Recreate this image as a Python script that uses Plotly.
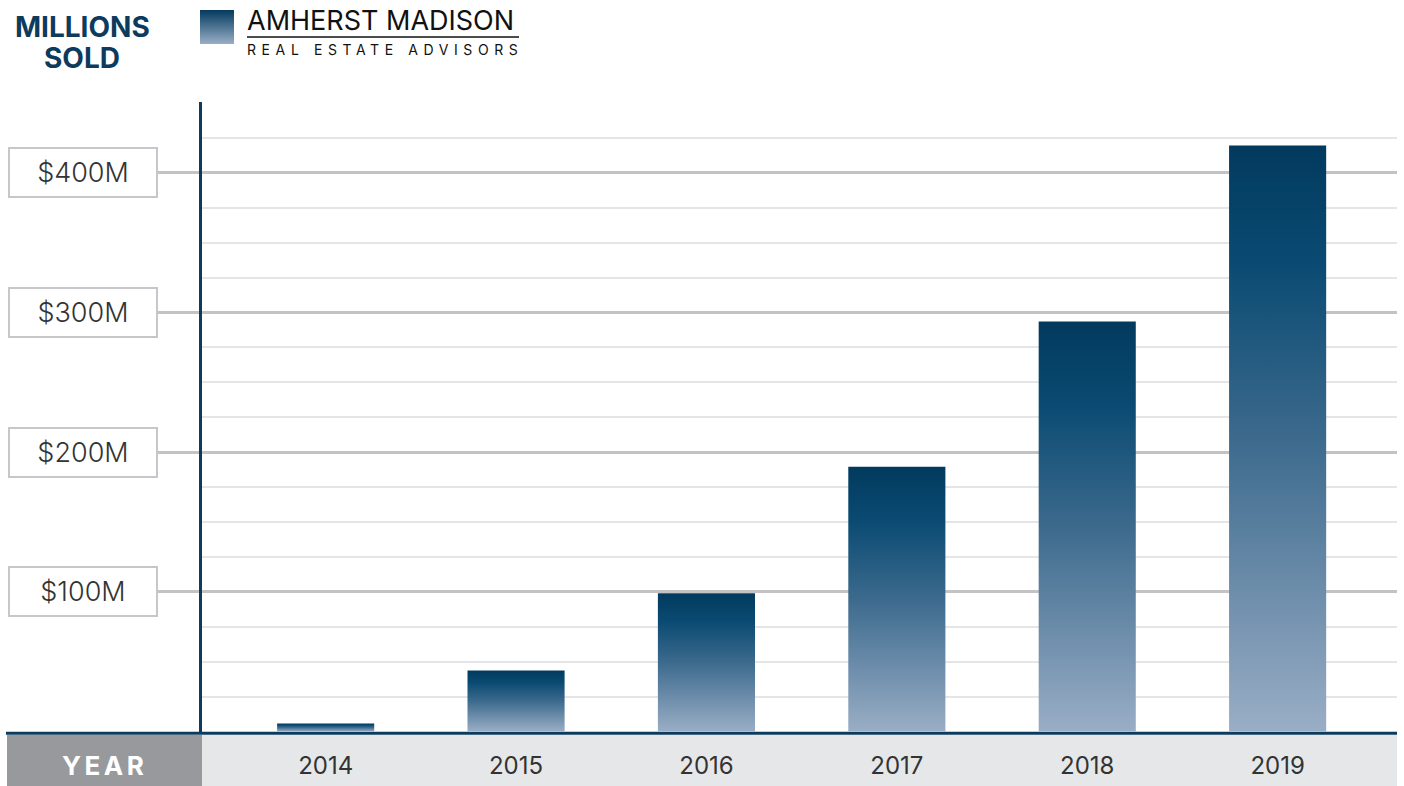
import plotly.graph_objects as go

# ---- data ----
years = ["2014", "2015", "2016", "2017", "2018", "2019"]
sales_millions = [5.7, 43.7, 99.0, 189.5, 293.5, 419.5]
y_tick_values = [100, 200, 300, 400]
y_tick_labels = ["$100M", "$200M", "$300M", "$400M"]
y_minor_values = [v for v in range(25, 451, 25) if v % 100 != 0]

W, H = 1404, 786


def px(x):
    return x / W


def py(y):
    return 1 - y / H


NAVY = "#0d3b5d"
FONT = "Inter"
bar_width = 0.51
grad = [[0, "#9aaec6"], [0.5, "#3c6a8d"], [0.8, "#0a4a72"], [1, "#023a5e"]]

fig = go.Figure()
for i, (yr, v) in enumerate(zip(years, sales_millions)):
    x0, x1 = i - bar_width / 2, i + bar_width / 2
    fig.add_trace(go.Scatter(
        x=[x0, x0, x1, x1, x0], y=[0, v, v, 0, 0],
        fill="toself", mode="lines",
        line=dict(width=0, color="rgba(0,0,0,0)"),
        fillgradient=dict(type="vertical", colorscale=grad),
        name=yr, hoverinfo="skip", showlegend=False,
    ))

# logo square (gradient) on its own small axes
fig.add_trace(go.Scatter(
    x=[0, 0, 1, 1, 0], y=[0, 1, 1, 0, 0], xaxis="x2", yaxis="y2",
    fill="toself", mode="lines", line=dict(width=0, color="rgba(0,0,0,0)"),
    fillgradient=dict(type="vertical", colorscale=[[0, "#9aaec6"], [1, "#023a5e"]]),
    hoverinfo="skip", showlegend=False,
))

shapes = [
    dict(type="rect", xref="paper", yref="paper", x0=px(7), x1=px(202), y0=py(786), y1=py(735),
         fillcolor="#98999d", line=dict(width=0), layer="below"),
    dict(type="rect", xref="paper", yref="paper", x0=px(202), x1=px(1397), y0=py(786), y1=py(735),
         fillcolor="#e6e7e9", line=dict(width=0), layer="below"),
    dict(type="line", xref="paper", yref="paper", x0=px(6), x1=px(1397), y0=py(733.3), y1=py(733.3),
         line=dict(color=NAVY, width=3)),
    dict(type="line", xref="paper", yref="paper", x0=px(200.5), x1=px(200.5), y0=py(102), y1=py(733),
         line=dict(color=NAVY, width=3)),
    dict(type="line", xref="paper", yref="paper", x0=px(247), x1=px(519), y0=py(37), y1=py(37),
         line=dict(color="#111111", width=1.5)),
]

annotations = []
for v, lab in zip(y_tick_values, y_tick_labels):
    annotations.append(dict(
        x=px(82.5), xref="paper", y=v, yref="y", text=lab, showarrow=False,
        xanchor="center", yanchor="middle", bgcolor="white",
        bordercolor="#c6c7ca", borderwidth=2, borderpad=0, width=146, height=47,
        font=dict(family=FONT, size=27, color="#333333", weight=300),
    ))
annotations += [
    dict(x=px(104), y=py(765), xref="paper", yref="paper", text="<span style='letter-spacing:3.5px'>YEAR</span>",
         showarrow=False, xanchor="center", yanchor="middle",
         font=dict(family=FONT, size=26, color="white", weight="bold")),
    dict(x=px(82), y=py(27), xref="paper", yref="paper", text="MILLIONS", showarrow=False,
         xanchor="center", yanchor="middle", font=dict(family=FONT, size=28, color=NAVY, weight="bold")),
    dict(x=px(82), y=py(58), xref="paper", yref="paper", text="SOLD", showarrow=False,
         xanchor="center", yanchor="middle", font=dict(family=FONT, size=28, color=NAVY, weight="bold")),
    dict(x=px(245), y=py(21), xref="paper", yref="paper", text="AMHERST MADISON", showarrow=False,
         xanchor="left", yanchor="middle", font=dict(family=FONT, size=27, color="#111111")),
    dict(x=px(245), y=py(50), xref="paper", yref="paper",
         text="<span style='letter-spacing:5.6px'>REAL ESTATE ADVISORS</span>", showarrow=False,
         xanchor="left", yanchor="middle", font=dict(family=FONT, size=14, color="#111111")),
]

fig.update_layout(
    width=W, height=H,
    margin=dict(l=0, r=0, t=0, b=0),
    paper_bgcolor="white", plot_bgcolor="white",
    showlegend=False,
    xaxis=dict(
        domain=[px(200), px(1397)], range=[-0.66, 5.627],
        tickmode="array", tickvals=list(range(len(years))), ticktext=years,
        showgrid=False, zeroline=False, showline=False, ticks="",
        tickfont=dict(family=FONT, size=24, color="#333333"),
        ticklabelstandoff=17,
    ),
    yaxis=dict(
        domain=[py(731.5), py(103)], range=[0, 450],
        tickmode="array", tickvals=y_tick_values, showticklabels=False,
        ticks="outside", ticklen=43, tickwidth=3, tickcolor="#c3c3c7",
        showgrid=True, gridcolor="#c3c3c7", gridwidth=3,
        minor=dict(tickmode="array", tickvals=y_minor_values, showgrid=True,
                   gridcolor="#e5e5e7", gridwidth=1.5, ticks=""),
        zeroline=False, showline=False,
    ),
    xaxis2=dict(domain=[px(200), px(234)], range=[0, 1], visible=False, anchor="y2"),
    yaxis2=dict(domain=[py(44), py(10)], range=[0, 1], visible=False, anchor="x2"),
    shapes=shapes,
    annotations=annotations,
)

fig.write_html("out.html", config={"displayModeBar": False},
               post_script="document.body.style.margin='0px';")
